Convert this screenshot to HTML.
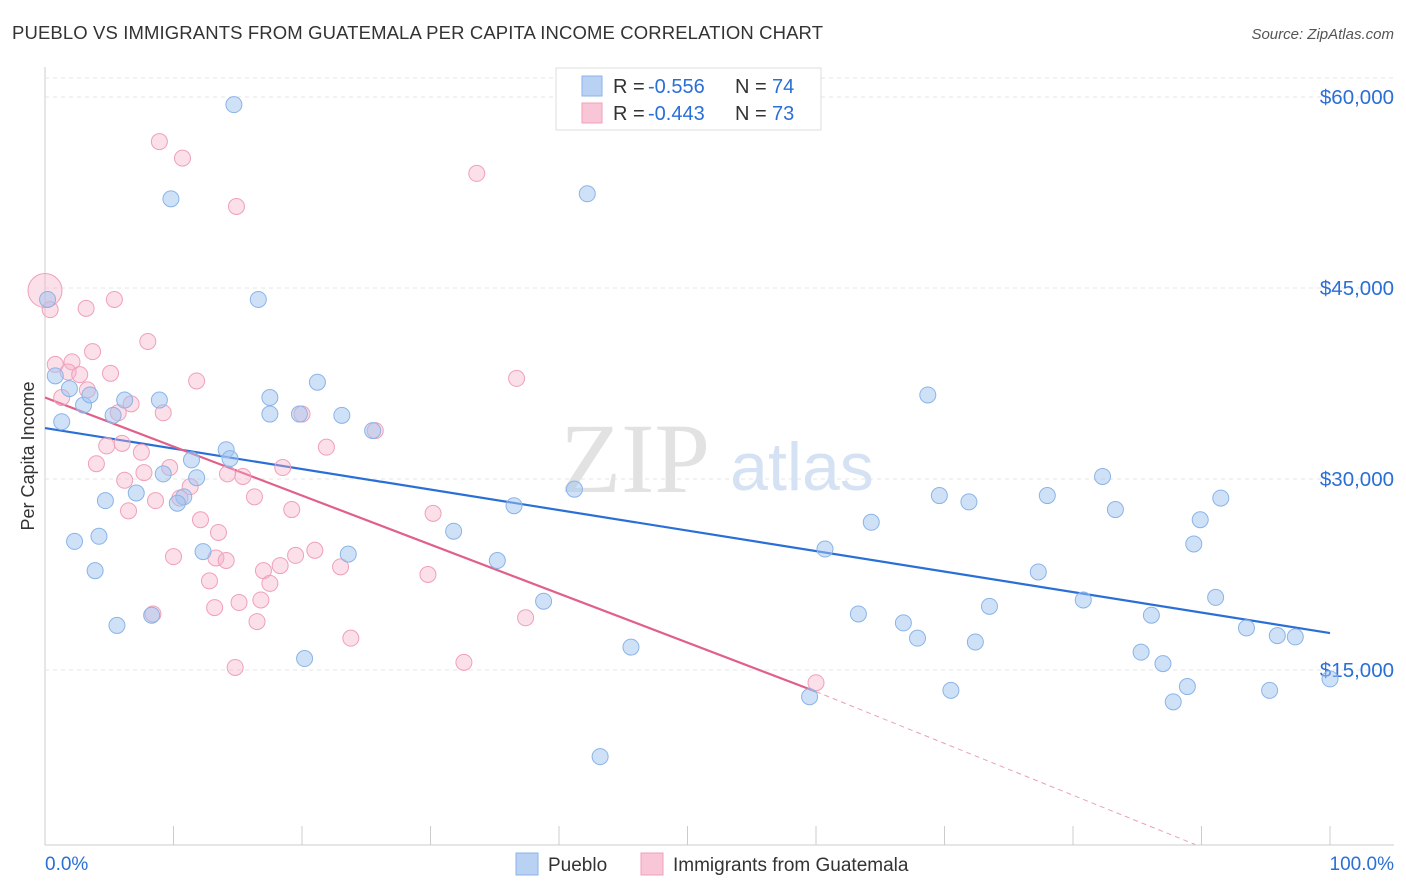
<!DOCTYPE html>
<html><head><meta charset="utf-8">
<style>
body{margin:0;background:#fff;font-family:"Liberation Sans",sans-serif;}
#wrap{position:relative;width:1406px;height:892px;overflow:hidden;}
</style></head>
<body>
<div id="wrap">
<svg id="svg" width="1406" height="892" xmlns="http://www.w3.org/2000/svg">
<text x="12" y="39" font-size="18.5" fill="#333" textLength="811">PUEBLO VS IMMIGRANTS FROM GUATEMALA PER CAPITA INCOME CORRELATION CHART</text>
<text x="1394" y="39" font-size="15" fill="#555" font-style="italic" text-anchor="end">Source: ZipAtlas.com</text>
<text x="34" y="456" font-size="18" fill="#333" text-anchor="middle" transform="rotate(-90 34 456)">Per Capita Income</text>
<g id="grid"></g>
<g>
<text x="635" y="492" font-size="100" fill="#e2e2e2" font-family="Liberation Serif,serif" text-anchor="middle">ZIP</text>
<text x="802" y="490" font-size="68" fill="#d4e2f3" text-anchor="middle">atlas</text>
</g>
<g id="lines"></g>
<g id="pts"></g>
<g>
<rect x="556" y="68" width="265" height="62" fill="#fff" stroke="#ddd"/>
<rect x="582" y="76" width="20" height="20" fill="#b9d2f3" stroke="#8ab4e8"/>
<rect x="582" y="103" width="20" height="20" fill="#f8c6d6" stroke="#f0a0b8"/>
<text x="613" y="93" font-size="20" fill="#333">R =</text>
<text x="648" y="93" font-size="20" fill="#2a6fd6">-0.556</text>
<text x="735" y="93" font-size="20" fill="#333">N =</text>
<text x="772" y="93" font-size="20" fill="#2a6fd6">74</text>
<text x="613" y="120" font-size="20" fill="#333">R =</text>
<text x="648" y="120" font-size="20" fill="#2a6fd6">-0.443</text>
<text x="735" y="120" font-size="20" fill="#333">N =</text>
<text x="772" y="120" font-size="20" fill="#2a6fd6">73</text>
</g>
<g>
<rect x="516" y="853" width="22" height="22" fill="#b9d2f3" stroke="#8ab4e8"/>
<text x="548" y="871" font-size="19" fill="#333">Pueblo</text>
<rect x="641" y="853" width="22" height="22" fill="#f8c6d6" stroke="#f0a0b8"/>
<text x="673" y="871" font-size="19" fill="#333">Immigrants from Guatemala</text>
</g>
<text x="45" y="870" font-size="19" fill="#2a6fd6">0.0%</text>
<text x="1394" y="870" font-size="19" fill="#2a6fd6" text-anchor="end">100.0%</text>
</svg>
</div>
<script>
const yTicks=[15000,30000,45000,60000];
const yTickLabels=["$15,000","$30,000","$45,000","$60,000"];
const xTicks=[0,10,20,30,40,50,60,70,80,90,100];
const blueX=[14.7,9.8,42.2,16.6,0.2,0.8,1.3,1.9,3.0,3.5,5.3,6.2,8.9,17.5,17.5,19.8,21.2,23.1,25.5,14.1,14.4,11.4,9.2,11.8,10.8,10.3,7.1,4.7,2.3,4.2,3.9,5.6,8.3,12.3,20.2,23.6,31.8,35.2,36.5,38.8,41.2,43.2,45.6,59.5,60.7,63.3,64.3,66.8,67.9,68.7,69.6,70.5,71.9,72.4,73.5,77.3,78.0,80.8,82.3,83.3,85.3,86.1,87.0,87.8,88.9,89.4,89.9,91.1,91.5,93.5,95.3,95.9,97.3,100];
const blueY=[59.4,52.0,52.4,44.1,44.1,38.1,34.5,37.1,35.8,36.6,35.0,36.2,36.2,36.4,35.1,35.1,37.6,35.0,33.8,32.3,31.6,31.5,30.4,30.1,28.6,28.1,28.9,28.3,25.1,25.5,22.8,18.5,19.3,24.3,15.9,24.1,25.9,23.6,27.9,20.4,29.2,8.2,16.8,12.9,24.5,19.4,26.6,18.7,17.5,36.6,28.7,13.4,28.2,17.2,20.0,22.7,28.7,20.5,30.2,27.6,16.4,19.3,15.5,12.5,13.7,24.9,26.8,20.7,28.5,18.3,13.4,17.7,17.6,14.3];
const pinkX=[0.4,8.9,10.7,14.9,33.6,5.4,3.2,8.0,3.7,0.8,2.1,1.8,2.7,5.1,11.8,36.7,3.3,1.3,5.7,6.7,9.2,20.0,25.7,21.9,4.8,6.0,7.5,4.0,9.7,7.7,14.2,15.4,18.5,6.2,11.3,10.5,8.6,6.5,16.3,19.2,30.2,12.1,13.5,10.0,13.3,14.1,19.5,21.0,18.3,17.0,12.8,17.5,23.0,29.8,15.1,16.8,13.2,8.4,16.5,37.4,23.8,32.6,14.8,60.0];
const pinkY=[43.3,56.5,55.2,51.4,54.0,44.1,43.4,40.8,40.0,39.0,39.2,38.4,38.2,38.3,37.7,37.9,37.0,36.4,35.2,35.9,35.2,35.1,33.8,32.5,32.6,32.8,32.1,31.2,30.9,30.5,30.4,30.2,30.9,29.9,29.4,28.5,28.3,27.5,28.6,27.6,27.3,26.8,25.8,23.9,23.8,23.6,24.0,24.4,23.2,22.8,22.0,21.8,23.1,22.5,20.3,20.5,19.9,19.4,18.8,19.1,17.5,15.6,15.2,14.0];
const bigPinkX=[0];const bigPinkY=[44.8];
const blueTrendX=[0,100];const blueTrendY=[34.0,17.9];
const pinkTrendX=[0,60];const pinkTrendY=[36.4,13.3];
const pinkDashX=[60,89.5];const pinkDashY=[13.3,1.3];
const NS="http://www.w3.org/2000/svg";
function sx(p){return 45+p*12.85;}
function sy(v){return 861-v*191/15000;}
function syk(k){return sy(k*1000);}
function mk(tag,attrs,parent){const e=document.createElementNS(NS,tag);for(const k in attrs)e.setAttribute(k,attrs[k]);parent.appendChild(e);return e;}
const gridG=document.getElementById('grid');
const axL=mk('line',{x1:45,y1:67,x2:45,y2:845,stroke:'#ccc'},gridG);


const bxL=mk('line',{x1:45,y1:845,x2:1394,y2:845,stroke:'#ccc'},gridG);


const topGrid=mk('line',{x1:45,y1:78,x2:1394,y2:78,stroke:'#e4e4e4','stroke-dasharray':'4,4'},gridG);


yTicks.forEach((v,i)=>{
 const g=mk('line',{x1:45,y1:sy(v),x2:1394,y2:sy(v),stroke:'#e4e4e4','stroke-dasharray':'4,4'},gridG);
 
 
 const t=mk('text',{x:1394,y:sy(v)+7,'font-size':20.5,fill:'#2a6fd6','text-anchor':'end'},gridG);
 t.textContent=yTickLabels[i];
 
 
});
xTicks.forEach(p=>{
 const t=mk('line',{x1:sx(p),y1:826,x2:sx(p),y2:845,stroke:'#ccc'},gridG);
 
 
});
const linesG=document.getElementById('lines');
const bl=mk('line',{x1:sx(blueTrendX[0]),y1:syk(blueTrendY[0]),x2:sx(blueTrendX[1]),y2:syk(blueTrendY[1]),stroke:'#2a6fd6','stroke-width':2.2},linesG);


const pl=mk('line',{x1:sx(pinkTrendX[0]),y1:syk(pinkTrendY[0]),x2:sx(pinkTrendX[1]),y2:syk(pinkTrendY[1]),stroke:'#e0608a','stroke-width':2.2},linesG);


const pd=mk('line',{x1:sx(pinkDashX[0]),y1:syk(pinkDashY[0]),x2:sx(pinkDashX[1]),y2:syk(pinkDashY[1]),stroke:'#e8a0b8','stroke-width':1,'stroke-dasharray':'5,4'},linesG);


const ptsG=document.getElementById('pts');
pinkX.forEach((x,i)=>{
 const c=mk('circle',{cx:sx(x),cy:syk(pinkY[i]),r:8,fill:'rgba(245,175,200,0.4)',stroke:'#f0a0b8','stroke-width':1},ptsG);
 
 
});
bigPinkX.forEach((x,i)=>{
 const c=mk('circle',{cx:sx(x),cy:syk(bigPinkY[i]),r:17,fill:'rgba(245,175,200,0.4)',stroke:'#f0a0b8','stroke-width':1},ptsG);
 
 
});
blueX.forEach((x,i)=>{
 const c=mk('circle',{cx:sx(x),cy:syk(blueY[i]),r:8,fill:'rgba(160,195,240,0.5)',stroke:'#8ab4e8','stroke-width':1},ptsG);
 
 
});
</script>
</body></html>
